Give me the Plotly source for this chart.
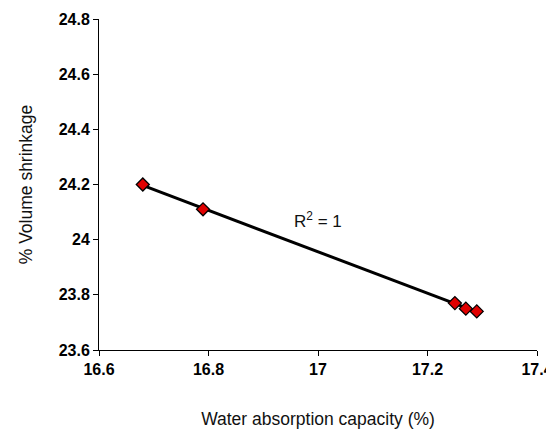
import numpy as np
import plotly.graph_objects as go

water_absorption = [16.68, 16.79, 17.25, 17.27, 17.29]
volume_shrinkage = [24.20, 24.11, 23.77, 23.75, 23.74]
x_ticks = [16.6, 16.8, 17.0, 17.2, 17.4]
x_tick_labels = ["16.6", "16.8", "17", "17.2", "17.4"]
y_ticks = [23.6, 23.8, 24.0, 24.2, 24.4, 24.6, 24.8]
y_tick_labels = ["23.6", "23.8", "24", "24.2", "24.4", "24.6", "24.8"]

slope, intercept = np.polyfit(water_absorption, volume_shrinkage, 1)
fit_x = [min(water_absorption), max(water_absorption)]
fit_y = [slope * v + intercept for v in fit_x]

FONT = "Arial, Liberation Sans"

fig = go.Figure()
fig.add_trace(go.Scatter(x=fit_x, y=fit_y, mode="lines",
                         line=dict(color="black", width=3), showlegend=False))
fig.add_trace(go.Scatter(x=water_absorption, y=volume_shrinkage, mode="markers",
                         marker=dict(symbol="diamond", size=10, color="#e00000",
                                     line=dict(color="black", width=1.3)),
                         showlegend=False))
fig.add_annotation(x=17.0, y=24.07, text="R<sup>2</sup> = 1", showarrow=False,
                   font=dict(family=FONT, size=17, color="#111111"))

axis_common = dict(showgrid=False, zeroline=False, showline=True, linecolor="black",
                   linewidth=1, ticks="outside", ticklen=5, tickcolor="black",
                   ticklabeloverflow="allow", automargin=False,
                   tickfont=dict(family=FONT, size=16, color="black", weight=700))
fig.update_xaxes(range=[16.6, 17.4], tickvals=x_ticks,
                 ticktext=["<b>%s</b>" % t for t in x_tick_labels],
                 title=dict(text="Water absorption capacity (%)", standoff=35,
                            font=dict(family=FONT, size=17.5, color="#111111")),
                 **axis_common)
fig.update_yaxes(range=[23.6, 24.8], tickvals=y_ticks,
                 ticktext=["<b>%s</b>" % t for t in y_tick_labels],
                 title=dict(text="% Volume shrinkage", standoff=21,
                            font=dict(family=FONT, size=17.5, color="#111111")),
                 **axis_common)
# page body adds an 8px offset; size the figure so it fits the window without scrollbars
fig.update_layout(width=546, height=422, margin=dict(l=91, r=17, t=11, b=80),
                  plot_bgcolor="white", paper_bgcolor="white")
fig.write_html("out.html")
